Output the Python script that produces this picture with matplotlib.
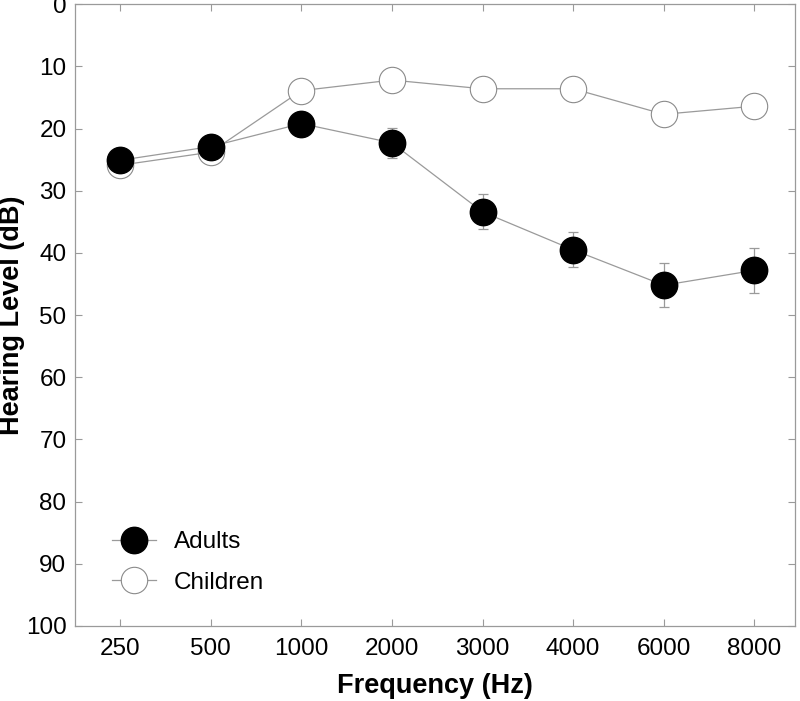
import matplotlib

matplotlib.use("Agg")
import matplotlib.pyplot as plt  # noqa: E402

plt.rcParams["font.family"] = ["Liberation Sans", "DejaVu Sans"]

frequencies = ["250", "500", "1000", "2000", "3000", "4000", "6000", "8000"]
adults = [25.1, 22.9, 19.2, 22.3, 33.4, 39.5, 45.2, 42.8]
adults_err = [1.5, 1.5, 1.8, 2.4, 2.8, 2.8, 3.5, 3.6]
children = [25.9, 23.8, 13.9, 12.2, 13.6, 13.6, 17.7, 16.4]
y_ticks = list(range(0, 101, 10))

GREY = "#9a9a9a"

fig = plt.figure(figsize=(8.0, 7.01), dpi=100)
ax = fig.add_axes([0.0934, 0.107, 0.9006, 0.887])

x = list(range(len(frequencies)))

ax.plot(x, children, color=GREY, linewidth=0.9, marker="o", markersize=19,
        markerfacecolor="white", markeredgecolor="#8a8a8a", markeredgewidth=0.8,
        label="Children", zorder=2)
ax.errorbar(x, adults, yerr=adults_err, color=GREY, linewidth=0.9,
            elinewidth=0.9, capsize=3.6, capthick=0.9, ecolor=GREY,
            marker="o", markersize=19, markerfacecolor="black",
            markeredgecolor="black", label="Adults", zorder=3)

ax.set_xlim(-0.5, 7.45)
ax.set_ylim(100, 0)
ax.set_xticks(x)
ax.set_xticklabels(frequencies)
ax.set_yticks(y_ticks)

for side in ax.spines.values():
    side.set_color(GREY)
    side.set_linewidth(0.9)
ax.tick_params(direction="in", length=5, width=0.8, color=GREY,
               top=True, right=True, labelsize=17.5)
ax.tick_params(axis="y", pad=6)
ax.tick_params(axis="x", pad=9)

ax.set_xlabel("Frequency (Hz)", fontsize=19.5, fontweight="bold", labelpad=9)
ax.set_ylabel("Hearing Level (dB)", fontsize=19.5, fontweight="bold")
ax.yaxis.set_label_coords(-0.069, 0.5)

handles, labels = ax.get_legend_handles_labels()
order = [labels.index("Adults"), labels.index("Children")]
ax.legend([handles[i] for i in order], [labels[i] for i in order],
          loc="lower left", bbox_to_anchor=(0.052, 0.052), frameon=False,
          fontsize=17.5, borderpad=0, borderaxespad=0, handlelength=1.8,
          handletextpad=0.75, labelspacing=0.76)

fig.savefig("out.png", dpi=100)
